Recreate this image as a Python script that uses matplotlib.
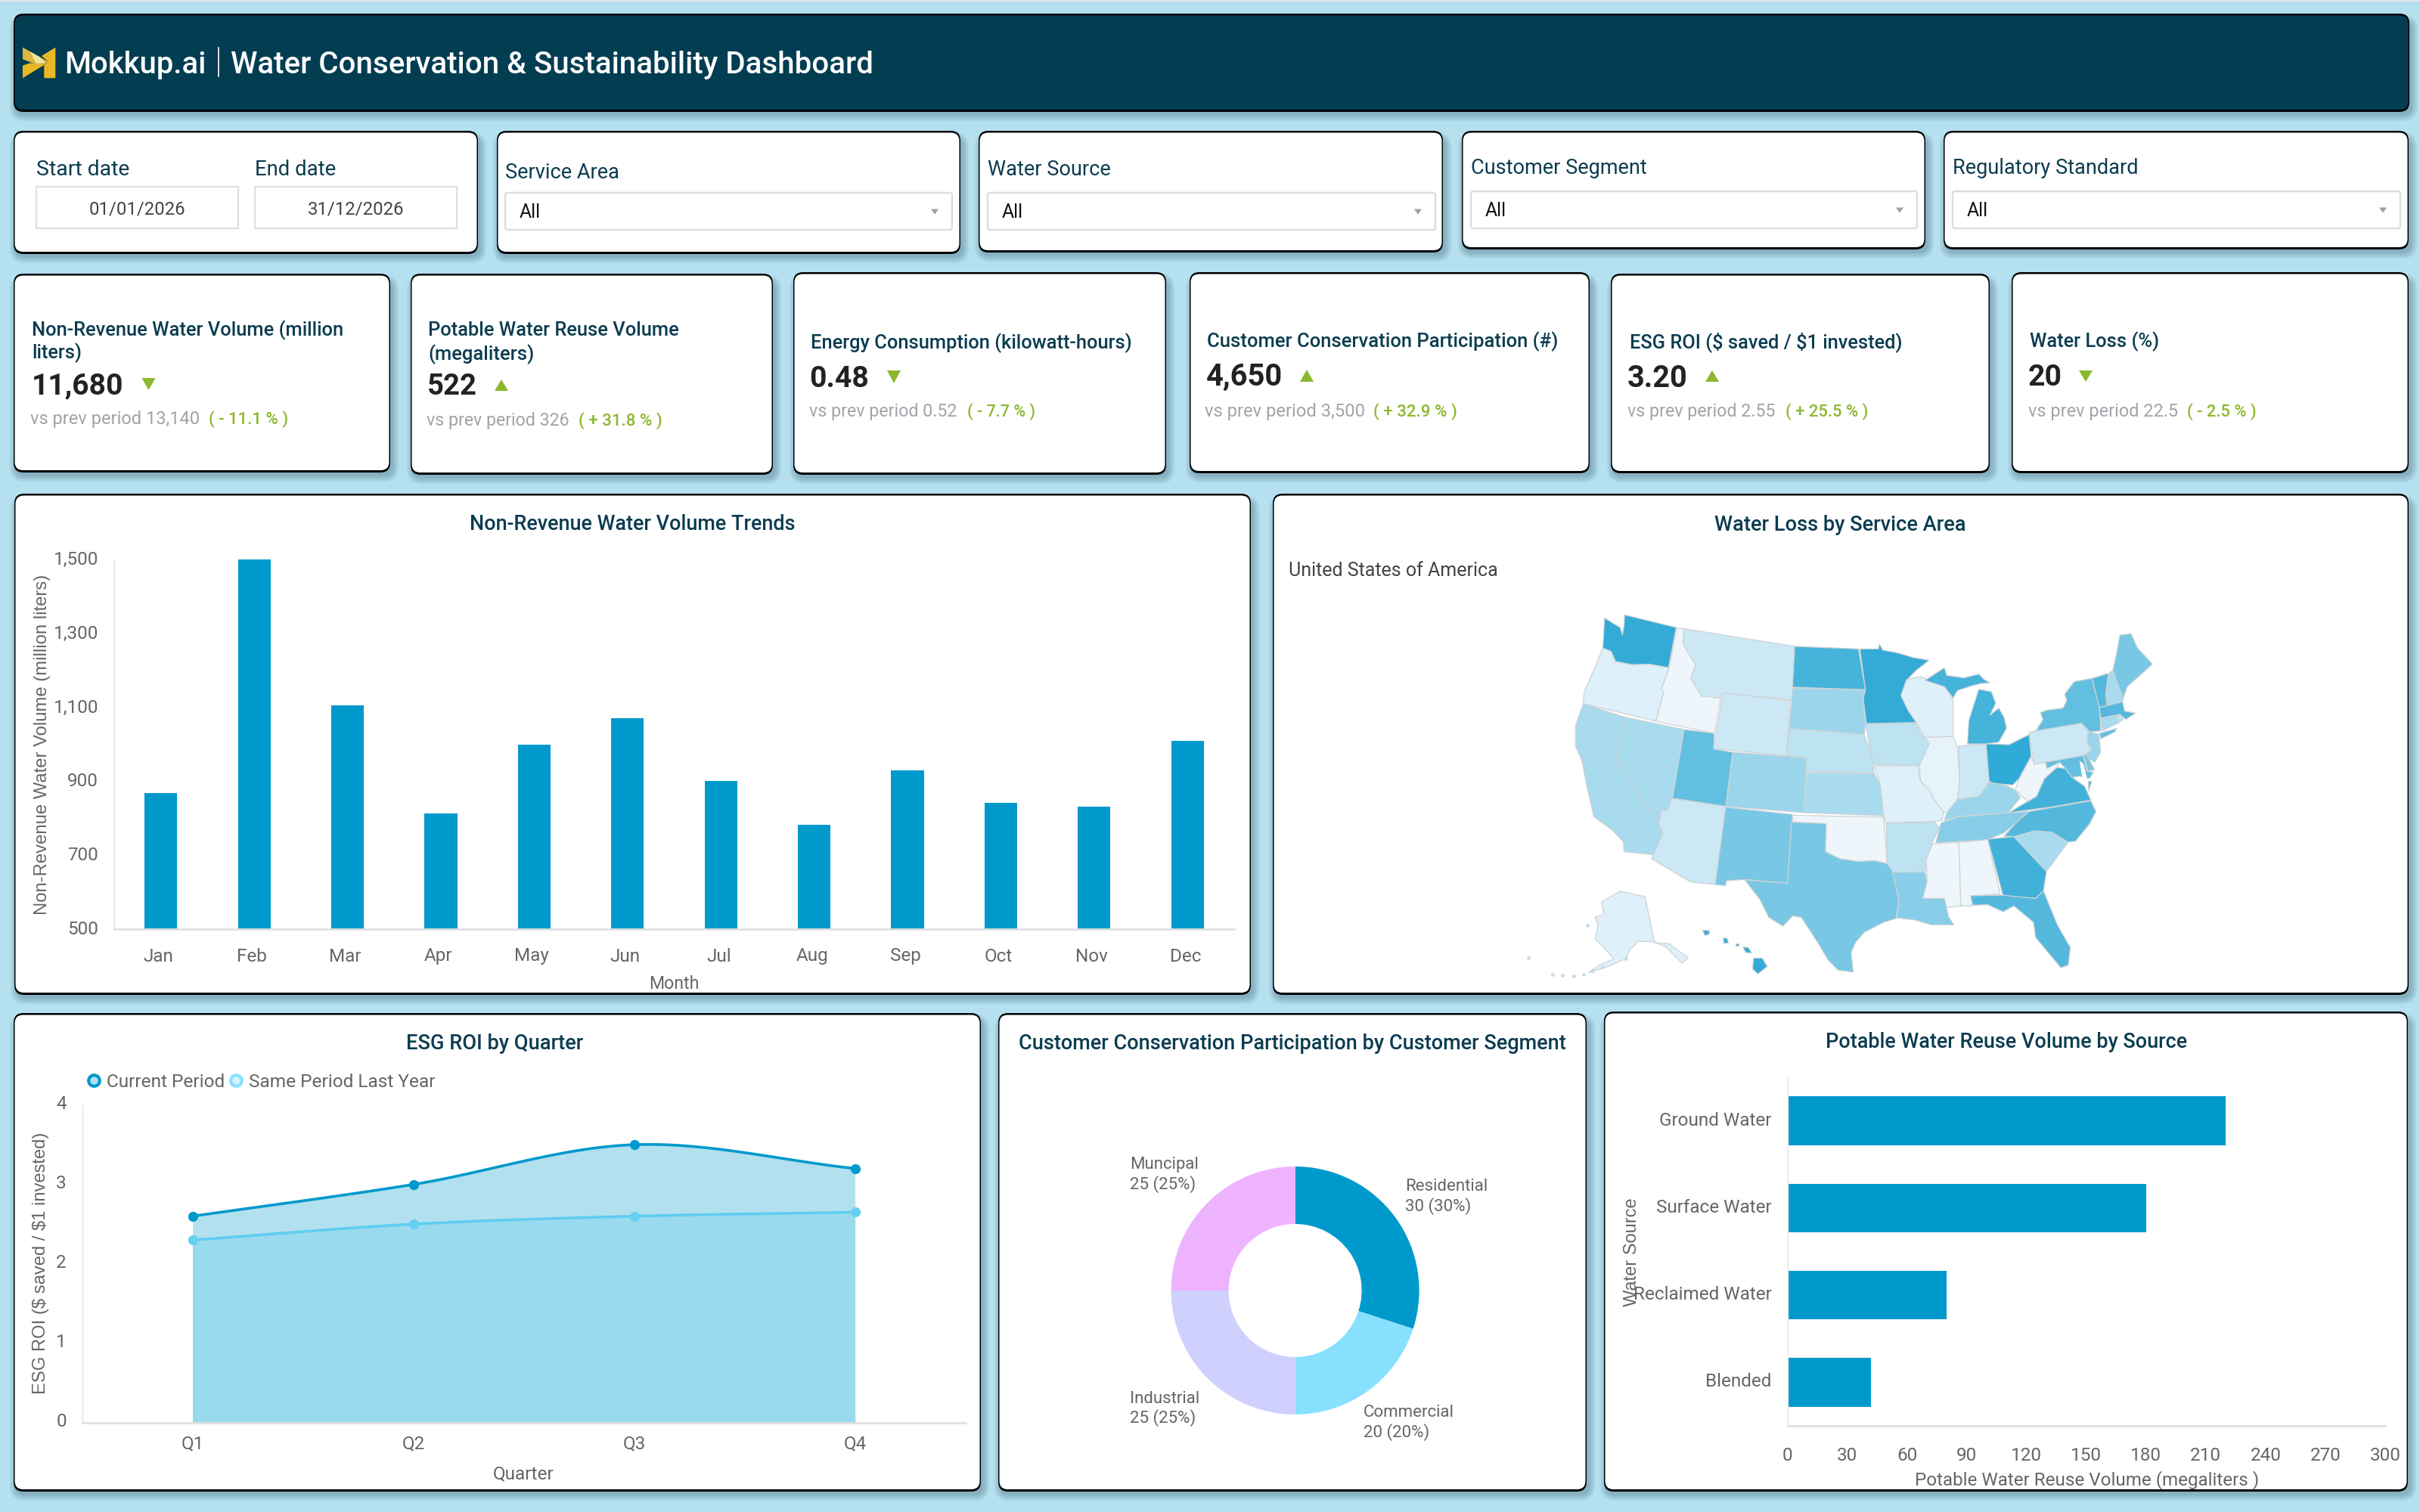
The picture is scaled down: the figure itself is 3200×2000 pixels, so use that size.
import numpy as np
import matplotlib
matplotlib.use("Agg")
import matplotlib.pyplot as plt
from matplotlib.patches import FancyBboxPatch, Polygon, Rectangle
from matplotlib.colors import LinearSegmentedColormap, Normalize
from matplotlib.transforms import ScaledTranslation

W, H = 3200, 2000
DPI = 100
plt.rcParams["font.family"] = ["Roboto", "DejaVu Sans"]

PAGE = "#b5e0f0"
NAVY = "#023d52"
INK = "#0b3c50"
AXIS_TEXT = "#666666"
BAR = "#0099cc"
GREEN = "#8cb82d"

# ---- chart data ----
MONTHS = ["Jan", "Feb", "Mar", "Apr", "May", "Jun", "Jul", "Aug", "Sep", "Oct", "Nov", "Dec"]
NRW_VOLUME = [867, 1500, 1105, 812, 998, 1070, 900, 781, 930, 842, 830, 1010]
NRW_TICKS = [500, 700, 900, 1100, 1300, 1500]

QUARTERS = ["Q1", "Q2", "Q3", "Q4"]
ROI_CURRENT = [2.6, 3.0, 3.5, 3.2]
ROI_LAST_YEAR = [2.3, 2.5, 2.6, 2.65]

SEGMENTS = ["Residential", "Commercial", "Industrial", "Muncipal"]
SEGMENT_SHARE = [30, 20, 25, 25]
SEGMENT_COLORS = ["#0099cc", "#88e0ff", "#d0d0ff", "#eeb3ff"]

SOURCES = ["Ground Water", "Surface Water", "Reclaimed Water", "Blended"]
REUSE_VOLUME = [220, 180, 80, 42]
REUSE_TICKS = [0, 30, 60, 90, 120, 150, 180, 210, 240, 270, 300]

KPI_TITLES = [
    ["Non-Revenue Water Volume (million", "liters)"],
    ["Potable Water Reuse Volume", "(megaliters)"],
    ["Energy Consumption (kilowatt-hours)"],
    ["Customer Conservation Participation (#)"],
    ["ESG ROI ($ saved / $1 invested)"],
    ["Water Loss (%)"],
]
KPI_VALUES = ["11,680", "522", "0.48", "4,650", "3.20", "20"]
KPI_PREV = ["13,140", "326", "0.52", "3,500", "2.55", "22.5"]
KPI_DELTA = ["( - 11.1 % )", "( + 31.8 % )", "( - 7.7 % )", "( + 32.9 % )", "( + 25.5 % )", "( - 2.5 % )"]
KPI_ARROW = ["down", "up", "down", "up", "up", "down"]

FILTERS = ["Service Area", "Water Source", "Customer Segment", "Regulatory Standard"]
START_DATE = "01/01/2026"
END_DATE = "31/12/2026"

# Water loss (%) per state; the fill comes from the shared colour scale.
WATER_LOSS = {
    "WA": 39.4, "OR": 12.5, "ID": 10.0, "MT": 15.4, "WY": 15.4, "ND": 36.4, "SD": 23.2, "NE": 17.8,
    "KS": 20.8, "CO": 23.2, "UT": 31.9, "NV": 20.8, "CA": 20.8, "AZ": 15.4, "NM": 28.6, "TX": 28.6,
    "OK": 10.0, "MN": 39.4, "IA": 17.8, "MO": 12.5, "AR": 17.8, "LA": 25.9, "WI": 12.5, "IL": 11.2,
    "IN": 15.4, "MI": 36.4, "OH": 40.0, "KY": 23.2, "TN": 26.2, "MS": 10.0, "AL": 10.0, "GA": 37.2,
    "FL": 34.3, "SC": 20.8, "NC": 34.3, "VA": 37.2, "WV": 10.0, "PA": 15.4, "NY": 31.9, "NJ": 23.2,
    "VT": 34.3, "NH": 20.8, "ME": 28.6, "MA": 34.3, "CT": 20.8, "RI": 17.8, "MD": 31.9, "DE": 28.6,
    "AK": 12.5, "HI": 39.4,
}

# Outlines of the states in the map's own plane units (x to the right, y downward).
STATE_OUTLINES = {
    "WA": [[(247,112),(268,135),(283,150),(288,180),(292,140),(293,100),(412,150),(394,310),(350,296),(310,298),(272,285),(262,245),(243,232),(245,170)]],
    "OR": [[(243,232),(262,245),(272,285),(310,298),(350,296),(396,310),(378,395),(383,410),(365,522),(198,452),(200,405),(222,320)]],
    "ID": [[(413,152),(430,155),(428,215),(445,265),(457,300),(445,350),(470,422),(515,425),(500,570),(365,522),(383,410),(378,395),(396,310)]],
    "MT": [[(430,155),(685,225),(680,437),(520,410),(512,430),(470,422),(445,350),(457,300),(445,265),(428,215)]],
    "WY": [[(520,410),(674,440),(666,660),(498,630)]],
    "ND": [[(685,225),(832,235),(848,397),(680,387)]],
    "SD": [[(680,390),(846,398),(843,430),(848,535),(845,575),(815,570),(790,565),(672,552)]],
    "NE": [[(672,552),(790,565),(815,572),(845,575),(860,640),(868,728),(712,722),(712,668),(666,660)]],
    "KS": [[(712,726),(868,730),(882,775),(890,897),(706,885)]],
    "CO": [[(542,645),(712,668),(706,885),(526,860)]],
    "UT": [[(430,555),(500,570),(498,632),(542,645),(526,860),(403,828)]],
    "NV": [[(292,505),(430,555),(403,828),(392,878),(378,875),(372,930),(272,660)]],
    "CA": [[(198,452),(292,505),(272,660),(372,930),(382,965),(360,1052),(292,1040),(290,1000),(265,955),(222,900),(205,770),(195,680),(180,620),(180,540)]],
    "AZ": [[(403,828),(526,860),(502,1170),(445,1160),(355,1068),(382,965),(372,930),(378,875),(392,878)]],
    "NM": [[(526,863),(680,892),(668,1165),(570,1150),(528,1155),(525,1175),(502,1170)]],
    "TX": [[(678,922),(758,928),(756,1040),(790,1068),(830,1078),(870,1075),(910,1090),(920,1190),(925,1240),(918,1305),(890,1320),(845,1360),(825,1400),(815,1440),(820,1517),(785,1510),(762,1470),(738,1400),(700,1300),(680,1295),(658,1335),(625,1300),(605,1230),(570,1152),(668,1165)]],
    "OK": [[(680,895),(890,903),(898,1087),(870,1075),(830,1078),(790,1068),(756,1040),(758,928),(680,922)]],
    "MN": [[(835,235),(878,235),(880,215),(888,240),(920,250),(960,270),(995,280),(965,320),(942,360),(930,420),(945,475),(965,527),(850,532),(843,430),(848,397)]],
    "IA": [[(848,532),(965,530),(975,570),(995,610),(985,650),(975,697),(868,695),(860,640)]],
    "MO": [[(868,700),(968,698),(975,760),(998,800),(1005,830),(1028,880),(1025,915),(1008,920),(895,925),(890,897),(882,775)]],
    "AR": [[(896,928),(1008,922),(1018,945),(1000,1010),(990,1070),(985,1120),(912,1122),(898,1087)]],
    "LA": [[(910,1122),(985,1120),(990,1160),(980,1225),(1030,1225),(1040,1300),(1052,1330),(1000,1330),(960,1310),(920,1303),(925,1240),(920,1190)]],
    "WI": [[(945,355),(975,345),(1030,385),(1045,420),(1050,440),(1050,582),(985,587),(965,527),(945,475),(930,420),(942,360)]],
    "IL": [[(985,587),(1050,582),(1060,625),(1065,760),(1060,830),(1045,880),(1030,885),(1005,830),(998,800),(975,760),(972,700),(985,650),(995,610)]],
    "IN": [[(1063,620),(1126,612),(1133,762),(1110,820),(1060,832),(1065,760)]],
    "MI": [[(1083,612),(1086,520),(1109,395),(1138,405),(1148,450),(1135,498),(1155,470),(1167,505),(1173,550),(1155,605),(1126,612)],
           [(985,360),(1030,310),(1035,340),(1075,350),(1109,335),(1120,355),(1135,370),(1115,372),(1092,382),(1060,400),(1050,430),(1030,385)]],
    "OH": [[(1126,612),(1179,615),(1225,575),(1230,660),(1202,750),(1187,775),(1147,770),(1133,762)]],
    "KY": [[(1035,885),(1060,832),(1110,820),(1133,765),(1170,775),(1193,795),(1205,825),(1176,885),(1060,900),(1030,915)]],
    "TN": [[(1022,925),(1060,902),(1176,885),(1225,880),(1195,925),(1167,965),(1130,992),(1010,1005)]],
    "MS": [[(1003,1008),(1063,1003),(1068,1255),(1035,1262),(1030,1225),(980,1225),(990,1160),(988,1070)]],
    "AL": [[(1063,1003),(1130,992),(1158,1207),(1090,1215),(1095,1255),(1068,1255)]],
    "GA": [[(1130,990),(1190,980),(1265,1118),(1258,1195),(1240,1225),(1165,1215)]],
    "FL": [[(1090,1215),(1160,1212),(1240,1225),(1258,1195),(1290,1330),(1320,1420),(1315,1490),(1298,1500),(1240,1380),(1235,1320),(1190,1255),(1165,1278),(1130,1250),(1095,1252)]],
    "SC": [[(1190,980),(1237,957),(1277,962),(1315,1002),(1265,1118)]],
    "NC": [[(1167,978),(1195,925),(1225,880),(1367,838),(1379,880),(1364,930),(1332,998),(1315,1002),(1277,962),(1237,957),(1190,980)]],
    "VA": [[(1178,885),(1222,840),(1242,820),(1260,750),(1289,705),(1309,710),(1324,745),(1353,780),(1367,835),(1277,862),(1178,885)],
           [(1362,760),(1369,760),(1362,800)]],
    "WV": [[(1237,692),(1263,685),(1266,710),(1295,685),(1289,705),(1260,750),(1242,820),(1222,840),(1193,795),(1202,750),(1230,660)]],
    "PA": [[(1225,565),(1346,530),(1360,560),(1358,610),(1370,632),(1353,658),(1237,692)]],
    "NY": [[(1241,560),(1257,515),(1251,488),(1266,478),(1303,470),(1312,440),(1307,415),(1329,365),(1370,352),(1387,468),(1390,560),(1365,565),(1346,530)],
           [(1387,570),(1427,550),(1422,565),(1390,592)]],
    "NJ": [[(1361,565),(1385,572),(1387,600),(1390,645),(1376,685),(1353,658),(1370,632),(1358,610)]],
    "VT": [[(1370,352),(1408,332),(1402,410),(1404,460),(1387,468)]],
    "NH": [[(1408,332),(1418,320),(1442,430),(1440,445),(1404,460),(1402,410)]],
    "ME": [[(1418,320),(1428,240),(1434,180),(1460,175),(1474,230),(1509,295),(1474,350),(1451,385),(1442,430),(1428,370)]],
    "MA": [[(1387,468),(1440,445),(1445,482),(1470,490),(1448,515),(1434,495),(1390,510)]],
    "CT": [[(1390,510),(1427,498),(1430,530),(1393,560)]],
    "RI": [[(1427,498),(1435,495),(1442,515),(1430,530)]],
    "MD": [[(1263,685),(1350,658),(1358,720),(1373,725),(1364,750),(1341,740),(1324,745),(1309,710),(1295,685),(1266,710)]],
    "DE": [[(1351,655),(1358,655),(1376,715),(1360,720)]],
    "AK": [[(240,1240),(282,1197),(340,1218),(362,1400),(395,1405),(440,1460),(425,1482),(390,1420),(362,1398),(325,1395),(305,1430),(295,1465),(255,1495),(210,1520),(235,1490),(268,1465),(240,1410),(225,1385),(232,1330),(225,1300),(245,1290)]],
    "HI": [[(590,1462),(610,1462),(622,1495),(600,1525),(588,1505)],
           [(566,1418),(578,1420),(586,1442),(572,1440)],
           [(548,1404),(556,1404),(556,1414),(548,1414)],
           [(520,1382),(530,1384),(532,1402),(522,1404)],
           [(473,1352),(488,1352),(488,1368),(478,1372)]],
}
CHESAPEAKE_BAY = [(1341,680),(1347,740),(1352,772),(1358,745),(1350,690)]
ALEUTIAN_ISLANDS = [(128,1526),(150,1531),(176,1534),(198,1527),(220,1513),(243,1497),(72,1460),(207,1332),(297,1465)]

loss_cmap = LinearSegmentedColormap.from_list("loss", ["#eef6fc", "#30aad6"])
loss_norm = Normalize(10, 40)

# ---- page scaffolding ----
fig = plt.figure(figsize=(W / DPI, H / DPI), dpi=DPI, facecolor=PAGE)
renderer = fig.canvas.get_renderer()

page = fig.add_axes([0, 0, 1, 1], zorder=0)
page.set_xlim(0, W)
page.set_ylim(H, 0)
page.axis("off")
page.add_patch(Rectangle((0, 0), W, 2, color="#e6e6e6", lw=0))


def panel_axes(x0, y0, x1, y1):
    a = fig.add_axes([x0 / W, 1 - y1 / H, (x1 - x0) / W, (y1 - y0) / H], zorder=2)
    a.patch.set_visible(False)
    return a


def round_box(x0, y0, x1, y1, r, **kw):
    p = FancyBboxPatch((x0, y0), x1 - x0, y1 - y0, boxstyle=f"round,pad=0,rounding_size={r}",
                       mutation_aspect=1, **kw)
    page.add_patch(p)
    return p


def card(x0, y0, x1, y1, face="white"):
    # soft drop shadow, black rim (heavier along the bottom), then the card face
    for i in range(7):
        e = i * 1.4
        round_box(x0 + 3 - e, y0 + 10 - e, x1 + 3 + e, y1 + 5 + e, 12 + e,
                  fc="#26505f", ec="none", alpha=0.05, zorder=1)
    round_box(x0, y0, x1, y1 + 1, 13, fc="black", ec="none", zorder=2)
    round_box(x0 + 1.5, y0 + 2.5, x1 - 1.5, y1 - 2, 11, fc=face, ec="none", zorder=3)


def txt(x, y, s, width=None, size=18, color="#444444", weight="normal", ha="left", va="center",
        family=None, rotation=0):
    if rotation == 0:
        y += 2
    t = page.text(x, y, s, fontsize=size, color=color, fontweight=weight, ha=ha, va=va,
                  rotation=rotation, zorder=6, family=family or ["Roboto", "DejaVu Sans"],
                  parse_math=False)
    if width is not None:
        bb = t.get_window_extent(renderer)
        extent = bb.height if rotation == 90 else bb.width
        t.set_fontsize(size * width / extent)
    return t


def triangle(cx, top, bottom, half, direction, color=GREEN):
    if direction == "up":
        pts = [(cx, top), (cx + half, bottom), (cx - half, bottom)]
    else:
        pts = [(cx - half, top), (cx + half, top), (cx, bottom)]
    page.add_patch(Polygon(pts, closed=True, fc=color, ec="none", zorder=6))


def nudge(labels, dx=0, dy=0):
    # shift tick labels by a few pixels (dy positive moves them up)
    for lab in labels:
        lab.set_transform(lab.get_transform() + ScaledTranslation(dx / DPI, dy / DPI, fig.dpi_scale_trans))


def style_axes(a, ypad, xpad):
    a.tick_params(length=0, labelcolor=AXIS_TEXT, labelsize=17.5)
    a.tick_params(axis="y", pad=ypad)
    a.tick_params(axis="x", pad=xpad)
    for s in ("top", "right"):
        a.spines[s].set_visible(False)
    a.spines["left"].set_color("#e4e4e4")
    a.spines["left"].set_linewidth(1)
    a.spines["bottom"].set_color("#e0e0e0")
    a.spines["bottom"].set_linewidth(2)


# ---- header ----
card(18, 18, 3186, 147, face=NAVY)
page.add_patch(Polygon([(30, 86.7), (30, 103.3), (58.3, 86), (40, 83.3)], fc="#e8b922", ec="none", zorder=6))
page.add_patch(Polygon([(73.3, 62.7), (55, 74), (64, 81.7), (58.3, 86), (58.3, 103.3), (73.3, 103.3)],
                       fc="#e8b922", ec="none", zorder=6))
page.add_patch(Polygon([(30, 62.7), (64, 81.7), (55, 88), (30, 78.3)], fc="#dcb743", ec="none", zorder=6))
page.add_patch(Polygon([(40, 68.3), (52, 75), (60, 83), (48, 84)], fc="#f1e3a0", ec="none", zorder=6))
txt(85, 84, "Mokkup.ai", width=187, size=30, color="white", weight="medium")
page.plot([288.5, 288.5], [63, 101], color="white", lw=1.2, zorder=6)
txt(305, 84, "Water Conservation & Sustainability Dashboard", width=847, size=30, color="white", weight="medium")

# ---- filter row ----
card(18, 173, 632, 335)
txt(48, 222, "Start date", width=123, color=INK)
txt(337, 222, "End date", width=107, color=INK)
for bx, label in zip((48, 337), (START_DATE, END_DATE)):
    page.add_patch(Rectangle((bx, 247), 267, 55, fc="white", ec="#e0e0e0", lw=1.6, zorder=5))
    txt(bx + 133.5, 275, label, width=127, ha="center", color="#444444")

filter_boxes = [
    (657, 1270, 173, 335, 668, 1259, 226, 255, 304, 151),
    (1294, 1908, 173, 333, 1306, 1898, 223, 255, 304, 162),
    (1933, 2546, 173, 329, 1945, 2535, 221, 253, 302, 233),
    (2570, 3185, 173, 329, 2582, 3174, 221, 253, 302, 245),
]
for name, (cx0, cx1, cy0, cy1, bx0, bx1, ly, by0, by1, lw_) in zip(FILTERS, filter_boxes):
    card(cx0, cy0, cx1, cy1)
    txt(bx0, ly, name, width=lw_, color=INK)
    round_box(bx0, by0, bx1, by1, 3, fc="white", ec="#dddddd", lw=1.8, zorder=5)
    txt(bx0 + 19, (by0 + by1) / 2, "All", width=28, color="#111111")
    triangle(bx1 - 23, (by0 + by1) / 2 - 3, (by0 + by1) / 2 + 4, 5, "down", color="#a0a0a0")

# ---- KPI row ----
kpi_cards = [(18, 362, 516, 624), (543, 362, 1022, 627), (1049, 360, 1542, 627),
             (1573, 360, 2102, 625), (2130, 362, 2631, 625), (2660, 360, 3185, 625)]
kpi_title_pos = [[(42, 435, 413), (42, 465, 66)], [(566, 435, 332), (566, 467, 140)], [(1072, 452, 426)],
                 [(1596, 450, 464)], [(2155, 451, 361)], [(2684, 450, 171)]]
kpi_value_pos = [(42, 509, 122), (565, 509, 66), (1070, 499, 79), (1595, 497, 101), (2152, 499, 80), (2682, 497, 45)]
kpi_tri_pos = [(196.5, 500, 516), (663, 502, 517), (1182, 490, 507), (1728, 489, 505), (2264, 490, 505), (2758, 490, 505)]
kpi_prev_pos = [(40, 553, 224), (564, 555, 189), (1070, 543, 196), (1593, 543, 211), (2152, 543, 196), (2682, 543, 197)]
kpi_delta_pos = [(276, 105), (765, 111), (1279, 91), (1816, 111), (2361, 110), (2892, 92)]

for i, box in enumerate(kpi_cards):
    card(*box)
    for line, (lx, ly, lw_) in zip(KPI_TITLES[i], kpi_title_pos[i]):
        txt(lx, ly, line, width=lw_, color=INK, weight="medium")
    vx, vy, vw = kpi_value_pos[i]
    txt(vx, vy, KPI_VALUES[i], width=vw, color="#222222", weight="bold", size=28)
    tx, t0, t1 = kpi_tri_pos[i]
    triangle(tx, t0, t1, 9, KPI_ARROW[i])
    px, py, pw = kpi_prev_pos[i]
    txt(px, py, f"vs prev period {KPI_PREV[i]}", width=pw, color="#a0a4a8")
    dx, dw = kpi_delta_pos[i]
    txt(dx, py, KPI_DELTA[i], width=dw, color=GREEN, weight="medium")

# ---- monthly bars ----
card(19, 653, 1654, 1315)
txt(836.5, 691.5, "Non-Revenue Water Volume Trends", width=431, ha="center", color=INK, weight="medium")
ax = panel_axes(151, 740.3, 1632, 1228.5)
ax.bar(range(12), NRW_VOLUME, width=0.35, color=BAR, zorder=2)
ax.set_xlim(-0.5, 11.5)
ax.set_ylim(500, 1500)
ax.set_yticks(NRW_TICKS, [f"{v:,}" for v in NRW_TICKS])
ax.set_xticks(range(12), MONTHS)
style_axes(ax, 15, 18)
nudge(ax.get_xticklabels(), dx=-3)
nudge(ax.get_yticklabels(), dy=2)
txt(891, 1299, "Month", width=66, ha="center", color=AXIS_TEXT)
txt(56, 985, "Non-Revenue Water Volume (million liters)", width=450, size=16, ha="center", color=AXIS_TEXT,
    rotation=90, family=["Liberation Sans"])

# ---- state map ----
card(1683, 653, 3185, 1315)
txt(2433, 693, "Water Loss by Service Area", width=333, ha="center", color=INK, weight="medium")
txt(1704, 753, "United States of America", width=277, color="#444444")
mp = panel_axes(1980, 780, 2880, 1300)
mp.set_xlim(0, 1568)
mp.set_ylim(1560, 0)
mp.axis("off")
for state, parts in STATE_OUTLINES.items():
    shade = loss_cmap(loss_norm(WATER_LOSS[state]))
    for part in parts:
        mp.add_patch(Polygon(part, closed=True, fc=shade, ec="#cdd3d6", lw=0.9, joinstyle="round"))
mp.add_patch(Polygon(CHESAPEAKE_BAY, closed=True, fc="white", ec="none", zorder=3))
mp.scatter(*zip(*ALEUTIAN_ISLANDS), s=6, color=loss_cmap(loss_norm(WATER_LOSS["AK"])),
           edgecolors="#b0bcc2", linewidths=0.6)

# ---- ESG ROI area chart ----
card(18, 1340, 1297, 1972)
txt(654.5, 1378, "ESG ROI by Quarter", width=235, ha="center", color=INK, weight="medium")


def smooth(xs, ys, n=40):
    # cubic Hermite segments with central-difference tangents
    xs, ys = np.asarray(xs, float), np.asarray(ys, float)
    m = np.gradient(ys, xs)
    out_x, out_y = [], []
    for k in range(len(xs) - 1):
        s = np.linspace(0, 1, n)
        h = xs[k + 1] - xs[k]
        out_x.append(xs[k] + s * h)
        out_y.append((2 * s**3 - 3 * s**2 + 1) * ys[k] + (s**3 - 2 * s**2 + s) * h * m[k]
                     + (-2 * s**3 + 3 * s**2) * ys[k + 1] + (s**3 - s**2) * h * m[k + 1])
    return np.concatenate(out_x), np.concatenate(out_y)


ax = panel_axes(108.6, 1461.6, 1276.6, 1882)
q = np.arange(4)
cx, cy = smooth(q, ROI_CURRENT)
lx, ly = smooth(q, ROI_LAST_YEAR)
ax.fill_between(cx, 0, cy, color="#b2e0ef", lw=0, zorder=1)
ax.fill_between(lx, 0, ly, color="#9adaef", lw=0, zorder=2)
ax.plot(cx, cy, color=BAR, lw=2.6, zorder=4)
ax.plot(lx, ly, color="#5fcdf0", lw=2.6, zorder=3)
ax.plot(q, ROI_CURRENT, "o", ms=8.5, color=BAR, zorder=5, clip_on=False)
ax.plot(q, ROI_LAST_YEAR, "o", ms=8.5, color="#66d0f2", zorder=5, clip_on=False)
ax.set_xlim(-0.5, 3.5)
ax.set_ylim(0, 4)
ax.set_yticks([0, 1, 2, 3, 4])
ax.set_xticks(q, QUARTERS)
style_axes(ax, 15, 12)
nudge(ax.get_yticklabels(), dy=4)
page.plot([124], [1429], "o", ms=10.5, mfc="#b2e0ef", mec=BAR, mew=3, zorder=6)
txt(141, 1429, "Current Period", width=156, color=AXIS_TEXT)
page.plot([312], [1429], "o", ms=10.5, mfc="#d6f3fd", mec="#88e0ff", mew=3, zorder=6)
txt(329, 1429, "Same Period Last Year", width=246, color=AXIS_TEXT)
txt(692.5, 1948, "Quarter", width=81, ha="center", color=AXIS_TEXT)
txt(54, 1671, "ESG ROI ($ saved / $1 invested)", width=347, size=16, ha="center", color=AXIS_TEXT,
    rotation=90, family=["Liberation Sans"])

# ---- participation donut ----
card(1320, 1340, 2098, 1972)
txt(1709, 1378, "Customer Conservation Participation by Customer Segment", width=726, ha="center",
    color=INK, weight="medium")
dn = panel_axes(1712.6 - 164, 1707 - 164, 1712.6 + 164, 1707 + 164)
dn.pie(SEGMENT_SHARE, colors=SEGMENT_COLORS, startangle=90, counterclock=False, radius=1,
       wedgeprops=dict(width=1 - 88 / 164, linewidth=0))
dn.set_xlim(-1, 1)
dn.set_ylim(-1, 1)
segment_label_pos = [(1858, 1567.6, 1594), (1803, 1866, 1893), (1494, 1848, 1874), (1494, 1538.5, 1565)]
total = sum(SEGMENT_SHARE)
for name, share, (sx, y0, y1) in zip(SEGMENTS, SEGMENT_SHARE, segment_label_pos):
    txt(sx, y0, name, size=16, color=AXIS_TEXT)
    txt(sx, y1, f"{share} ({share * 100 // total}%)", size=16, color=AXIS_TEXT)

# ---- reuse by source ----
card(2121, 1338, 3184, 1972)
txt(2653.5, 1377, "Potable Water Reuse Volume by Source", width=478, ha="center", color=INK, weight="medium")
ax = panel_axes(2363.5, 1425, 3154, 1886)
ax.barh(range(4), REUSE_VOLUME, height=0.56, color=BAR, zorder=2)
ax.set_ylim(3.5, -0.5)
ax.set_xlim(0, 300)
ax.set_xticks(REUSE_TICKS)
ax.set_yticks(range(4), SOURCES)
style_axes(ax, 15, 20)
nudge(ax.get_yticklabels(), dy=3)
txt(2759.5, 1956, "Potable Water Reuse Volume (megaliters )", width=454, ha="center", color=AXIS_TEXT)
txt(2158, 1656, "Water Source", width=144, size=16, ha="center", color=AXIS_TEXT, rotation=90,
    family=["Liberation Sans"])

fig.savefig("out.png", dpi=DPI, facecolor=PAGE)
